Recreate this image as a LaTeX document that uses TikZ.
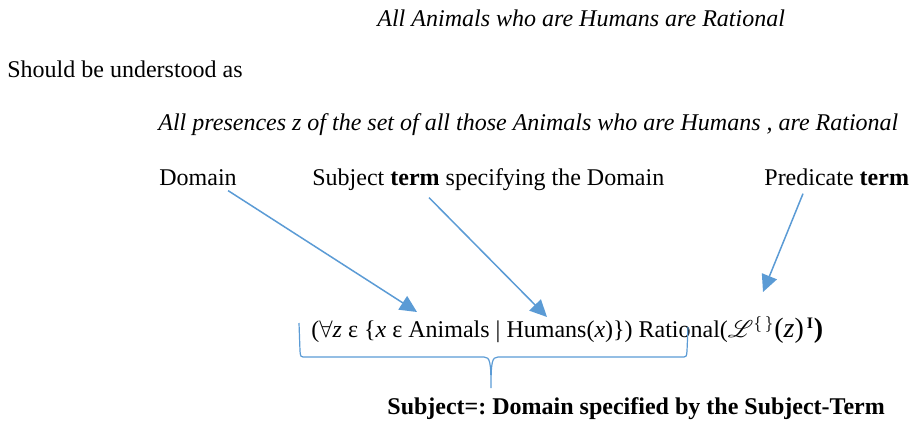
\documentclass[tikz,border=0pt]{standalone}
\usepackage{fontspec}
\setmainfont{Liberation Serif}
\usepackage{mathrsfs}
\usetikzlibrary{arrows.meta}
\definecolor{wordblue}{HTML}{5B9BD5}
\frenchspacing
\begin{document}
\begin{tikzpicture}[x=0.5pt,y=-0.5pt,
  txt/.style={anchor=base west,inner sep=0pt,font=\fontsize{12}{14}\selectfont},
  pointer/.style={wordblue,line width=0.75pt,-{Triangle[length=8.5pt,width=8pt]}},
  bracket/.style={wordblue,line width=0.6pt}]
  \useasboundingbox (0,0) rectangle (909,423);
  % Saetninger
  \node[txt] (orig) at (377,26) {\textit{All Animals who are Humans are Rational}};
  \node[txt] (should) at (7,77) {Should be understood as};
  \node[txt] (reading) at (158,130) {\textit{All presences z of the set of all those Animals who are Humans , are Rational}};
  % Labels
  \node[txt] (dom) at (159,185) {Domain};
  \node[txt] (subj) at (312,185) {Subject \textbf{term} specifying the Domain};
  \node[txt] (pred) at (764,185) {Predicate \textbf{term}};
  % Formel
  \node[txt] (formula) at (311,337) {($\forall$\textit{z} ε \{\textit{x} ε Animals | Humans(\textit{x})\}) Rational($\mathscr{L}^{\{\,\}}${\fontsize{14}{14}\selectfont(\textit{z})}$^{\,\mathbf{I}}${\fontsize{14}{14}\selectfont\textbf{)}}};
  \node[txt,font=\bfseries\fontsize{12}{14}\selectfont] (subjdef) at (387,414) {Subject=: Domain specified by the Subject-Term};
  % Pile
  \coordinate (domtip) at (417,312);
  \coordinate (subjtip) at (547,317);
  \coordinate (predtip) at (763,292);
  \draw[pointer] ([xshift=-4.5pt,yshift=-2.5pt]dom.south east) -- (domtip);
  \draw[pointer] ([xshift=58.5pt,yshift=-3.5pt]subj.south west) -- (subjtip);
  \draw[pointer] ([xshift=19.5pt,yshift=-4pt]pred.south west) -- (predtip);
  % Klamme
  \draw[bracket] (299,323) -- (300,351) .. controls (300.5,357) .. (306,357) -- (484,357)
    .. controls (490,357) and (491,362) .. (491,388)
    .. controls (491,362) and (492,357) .. (498,357) -- (681,357)
    .. controls (686.5,357) .. (687,351) -- (688,327);
\end{tikzpicture}
\end{document}
